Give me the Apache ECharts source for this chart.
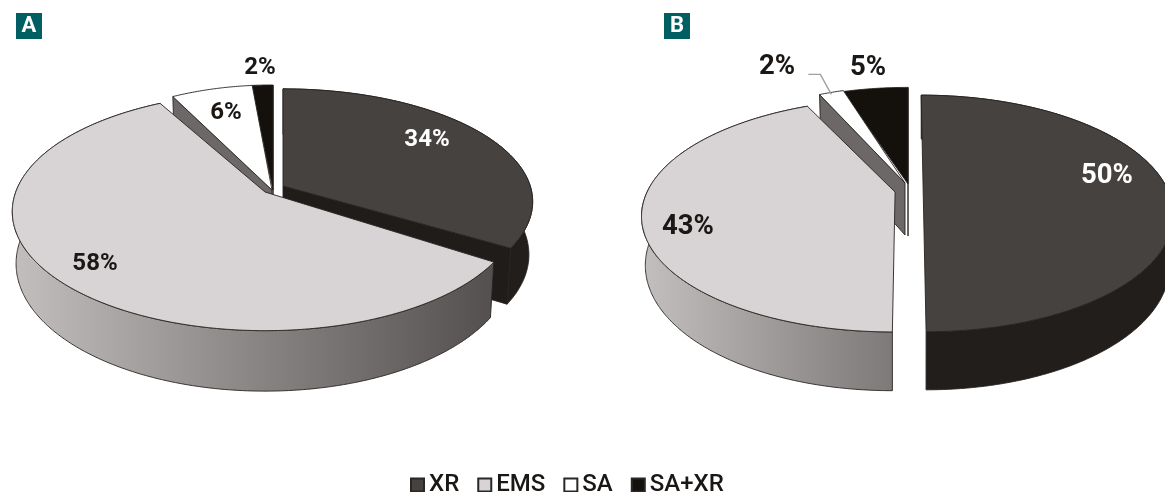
<!DOCTYPE html>
<html><head><meta charset="utf-8">
<style>html,body{margin:0;padding:0;background:#fff}#c{width:1165px;height:492px}</style>
<script src="https://cdn.jsdelivr.net/npm/echarts@6/dist/echarts.min.js"></script>
</head><body><div id="c"></div>
<script>
// ---- data ----
const categories = ['XR', 'EMS', 'SA', 'SA+XR'];
const valuesA = [34, 58, 6, 2];
const valuesB = [50, 43, 2, 5];
const panels = ['A', 'B'];

// ---- style ----
const topColors = { 'XR': '#464240', 'EMS': '#d8d4d5', 'SA': '#ffffff', 'SA+XR': '#14110c' };
const cutColors = { 'XR': '#1f1c19', 'EMS': '#6b6867', 'SA': '#6b6867', 'SA+XR': '#14110c' };
const labelColors = { 'XR': '#ffffff', 'EMS': '#1a1714', 'SA': '#1a1714', 'SA+XR': '#1a1714' };
const drawOrder = ['SA+XR', 'SA', 'XR', 'EMS'];

// ---- layout of the two perspective discs ----
const RX = 251, RY = 119.6, K = 0.139, STEP = 0.5, XS = 0.985;
const discs = [
  { C: 265, Y: 192, wall: [11, 491], fs: 24, slices: {
    'XR':    { dx: 18, dy: -6, sx: 0.985, sy: 0.925, k: K, h: 52, face: 'end', endShift: -1, label: [427, 140] },
    'EMS':   { dx: 0,  dy: 0,  sx: 0.993, sy: 0.968, k: 0.165, h: 50.5, startShift: 1, label: [95, 264] },
    'SA':    { dx: 7,  dy: -2, sx: 0.92, sy: 1, k: K, h: 52, face: 'start', endShift: 1.6, label: [226, 113] },
    'SA+XR': { dx: 8,  dy: -2, sx: 1, sy: 1, k: K, h: 52, face: 'end', startShift: 1.6, label: [260, 68] }
  }},
  { C: 906, Y: 192, wall: [642, 1050], fs: 27.5, slices: {
    'XR':    { dx: 0,  dy: 5,  ex: 0.07,   sx: 0.985, sy: 0.97, k: K, h: 50, label: [1107, 176] },
    'EMS':   { dx: 0,  dy: 0,  ex: -0.044, sx: 0.988, sy: 0.936, k: 0.2, h: 47, label: [688, 227] },
    'SA':    { dx: -1, dy: -9, sx: 0.9, sy: 0.92, k: K, h: 52, face: 'start', label: [777, 67], leader: true },
    'SA+XR': { dx: 2,  dy: -8, sx: 0.95, sy: 0.92, k: K, h: 52, face: 'end', label: [868, 68] }
  }}
];
const wallStops = [
  { offset: 0, color: '#c2bfbe' }, { offset: 0.5, color: '#8a8685' }, { offset: 1, color: '#54504f' }
];
const strokeColor = '#26231f';

function sliceAngles(vals, name) {
  const total = vals.reduce((a, b) => a + b, 0);
  let acc = 0;
  for (let i = 0; i < categories.length; i++) {
    if (categories[i] === name) return [acc / total * 360, (acc + vals[i]) / total * 360];
    acc += vals[i];
  }
}

function renderer(name) {
  return function (params, api) {
    const pi = api.value(0);
    const d = discs[pi], s = d.slices[name];
    const vals = pi === 0 ? valuesA : valuesB;
    let [a0, a1] = sliceAngles(vals, name);
    a0 += s.startShift || 0;
    a1 += s.endShift || 0;
    const cx = d.C + s.dx, cy = d.Y + s.dy, ex = s.ex || 0;
    const apexX = cx + RX * s.sx * ex;
    const proj = (u, v) => {
      const w = 1 - s.k * v;
      return [cx + RX * s.sx * (u + ex) / w, cy + RY * s.sy * v / w, w];
    };
    const rim = a => { const t = a * Math.PI / 180; return proj(Math.sin(t), -Math.cos(t)); };
    const drop = p => [apexX + (p[0] - apexX) * XS, p[1] + s.h / p[2]];
    const rimPts = [];
    for (let a = a0; a < a1; a += STEP) rimPts.push(rim(a));
    rimPts.push(rim(a1));
    const apex = proj(0, 0);
    const children = [];
    const line = { stroke: strokeColor, lineWidth: 0.9, lineJoin: 'round' };
    const wallFill = name === 'XR' ? '#211e1b' : {
      type: 'linear', x: d.wall[0], y: 0, x2: d.wall[1], y2: 0, global: true, colorStops: wallStops
    };
    if (name === 'XR' || name === 'EMS') {
      children.push({ type: 'polygon',
        shape: { points: rimPts.map(p => [p[0], p[1]]).concat(rimPts.map(drop).reverse()) },
        style: Object.assign({ fill: wallFill }, line) });
    }
    if (s.face) {
      const e = s.face === 'start' ? rim(a0) : rim(a1);
      children.push({ type: 'polygon',
        shape: { points: [[e[0], e[1]], [apex[0], apex[1]], drop(apex), drop(e)] },
        style: Object.assign({ fill: cutColors[name] }, line) });
    }
    children.push({ type: 'polygon',
      shape: { points: [[apex[0], apex[1]]].concat(rimPts.map(p => [p[0], p[1]])) },
      style: Object.assign({ fill: topColors[name] }, line) });
    if (s.leader) {
      const m = rim((a0 + a1) / 2);
      children.push({ type: 'polyline',
        shape: { points: [[m[0], m[1] + 2], [m[0] - 11, m[1] - 18], [m[0] - 23, m[1] - 18]] },
        style: { stroke: '#a0a0a0', lineWidth: 1.4, fill: 'none' } });
    }
    children.push({ type: 'text', z2: 50, x: s.label[0], y: s.label[1],
      style: { text: api.value(1) + '%', fill: labelColors[name], align: 'center', verticalAlign: 'middle',
               font: '700 ' + d.fs + 'px Roboto' } });
    return { type: 'group', children };
  };
}

const series = drawOrder.map(name => {
  const i = categories.indexOf(name);
  return {
    type: 'custom', name, coordinateSystem: 'none', silent: true, animation: false,
    clip: false,
    itemStyle: { color: topColors[name], borderColor: '#2a2724', borderWidth: 1.4 },
    data: [[0, valuesA[i]], [1, valuesB[i]]],
    renderItem: renderer(name)
  };
});

const badge = (txt, x) => ({
  type: 'group', left: x, top: 13, children: [
    { type: 'rect', shape: { x: 0, y: 0, width: 26, height: 26 }, style: { fill: '#005f63' } },
    { type: 'text', x: 13, y: 13.5, style: { text: txt, fill: '#fff', align: 'center', verticalAlign: 'middle', font: '700 22px Roboto' } }
  ]
});

const chart = echarts.init(document.getElementById('c'), null, { renderer: 'canvas' });
chart.setOption({
  animation: false,
  backgroundColor: '#ffffff',
  legend: {
    data: categories, left: 410, top: 473, icon: 'rect', itemWidth: 13, itemHeight: 13, itemGap: 18,
    selectedMode: false, padding: 0,
    textStyle: { fontFamily: 'Roboto', fontWeight: 500, fontSize: 24, color: '#1a1714' }
  },
  graphic: panels.map((p, i) => badge(p, i === 0 ? 16 : 664)),
  series
});
</script></body></html>
